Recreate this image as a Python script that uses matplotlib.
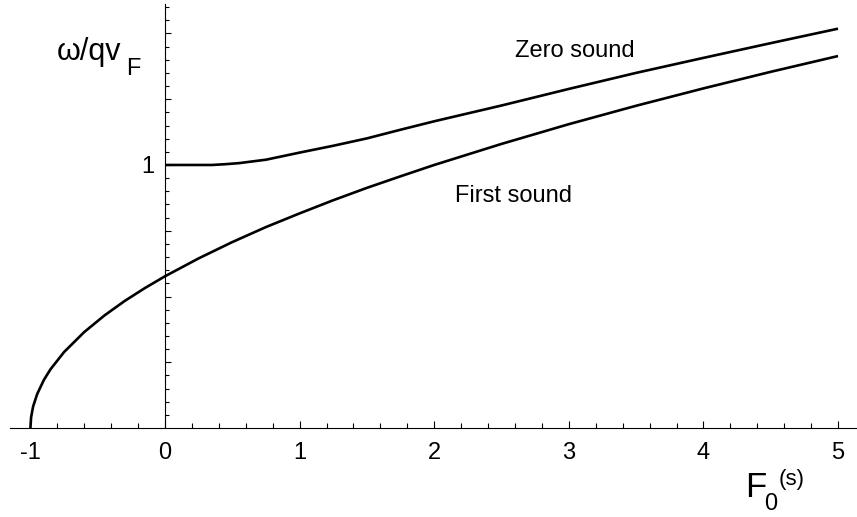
import numpy as np
import matplotlib.pyplot as plt
from matplotlib.ticker import FixedLocator, FuncFormatter

plt.rcParams['font.family'] = ['Liberation Sans', 'DejaVu Sans']

# first sound branch
f_first = [-1.0, -0.995, -0.98, -0.95, -0.9, -0.85, -0.75, -0.6, -0.45, -0.3, -0.15,
           0.0, 0.25, 0.5, 0.75, 1.0, 1.25, 1.5, 1.75, 2.0, 2.5, 3.0, 3.5, 4.0, 4.5, 5.0]
v_first = [0.0, 0.041, 0.082, 0.129, 0.183, 0.224, 0.289, 0.365, 0.428, 0.483, 0.532,
           0.577, 0.645, 0.707, 0.764, 0.816, 0.866, 0.913, 0.957, 1.0, 1.080, 1.155,
           1.225, 1.291, 1.354, 1.414]

# zero sound branch
f_zero = [0.0, 0.35, 0.45, 0.55, 0.75, 1.0, 1.25, 1.5, 1.75, 2.0, 2.5, 3.0, 3.5, 4.0, 4.5, 5.0]
v_zero = [1.0, 1.0, 1.003, 1.007, 1.02, 1.047, 1.073, 1.101, 1.134, 1.166, 1.226, 1.289,
          1.350, 1.407, 1.463, 1.518]

x_major = [-1, 0, 1, 2, 3, 4, 5]
y_major = [0.25, 0.5, 0.75, 1.0, 1.25, 1.5]

fig = plt.figure(figsize=(8.57, 5.17), dpi=100)
ax = fig.add_axes([0, 0, 1, 1])
ax.set_xlim(-1.226, 5.141)
ax.set_ylim(-0.338, 1.627)

ax.plot(f_first, v_first, color='black', lw=1.9, solid_capstyle='butt')
ax.plot(f_zero, v_zero, color='black', lw=1.9, solid_capstyle='butt')

# axes through the origin, Mathematica style
for s in ['top', 'right']:
    ax.spines[s].set_visible(False)
ax.spines['left'].set_position(('data', 0))
ax.spines['bottom'].set_position(('data', 0))
ax.spines['left'].set_bounds(0, 1.61)
ax.spines['bottom'].set_bounds(-1.152, 5.141)
for s in ['left', 'bottom']:
    ax.spines[s].set_linewidth(0.8)

x_minor = [v for v in np.arange(-1.0, 5.01, 0.2) if abs(v - round(v)) > 1e-6]
y_minor = [v for v in np.arange(0.05, 1.601, 0.05) if abs(v * 4 - round(v * 4)) > 1e-6]
ax.xaxis.set_major_locator(FixedLocator(x_major))
ax.xaxis.set_minor_locator(FixedLocator(x_minor))
ax.xaxis.set_major_formatter(FuncFormatter(lambda v, p: '%d' % round(v)))
ax.yaxis.set_major_locator(FixedLocator(y_major))
ax.yaxis.set_minor_locator(FixedLocator(y_minor))
ax.yaxis.set_major_formatter(FuncFormatter(lambda v, p: '1' if abs(v - 1) < 1e-6 else ''))

ax.tick_params(axis='x', which='major', direction='in', length=5, width=0.8, pad=10, labelsize=17)
ax.tick_params(axis='x', which='minor', direction='in', length=3.5, width=0.8)
ax.tick_params(axis='y', which='major', direction='in', length=4.5, width=0.8, pad=8, labelsize=17)
ax.tick_params(axis='y', which='minor', direction='in', length=3, width=0.8)

ax.text(2.60, 1.411, 'Zero sound', fontsize=17, ha='left', va='baseline')
ax.text(2.155, 0.859, 'First sound', fontsize=17, ha='left', va='baseline')

# axis labels, pieced together like the original
ax.text(-0.802, 1.399, 'ω/qv', fontsize=22, ha='left', va='baseline')
ax.text(-0.290, 1.342, 'F', fontsize=17, ha='left', va='baseline')
ax.text(4.309, -0.262, 'F', fontsize=25, ha='left', va='baseline')
ax.text(4.450, -0.312, '0', fontsize=17, ha='left', va='baseline')
ax.text(4.562, -0.217, '(s)', fontsize=16, ha='left', va='baseline')

fig.savefig('out.png', dpi=100)
